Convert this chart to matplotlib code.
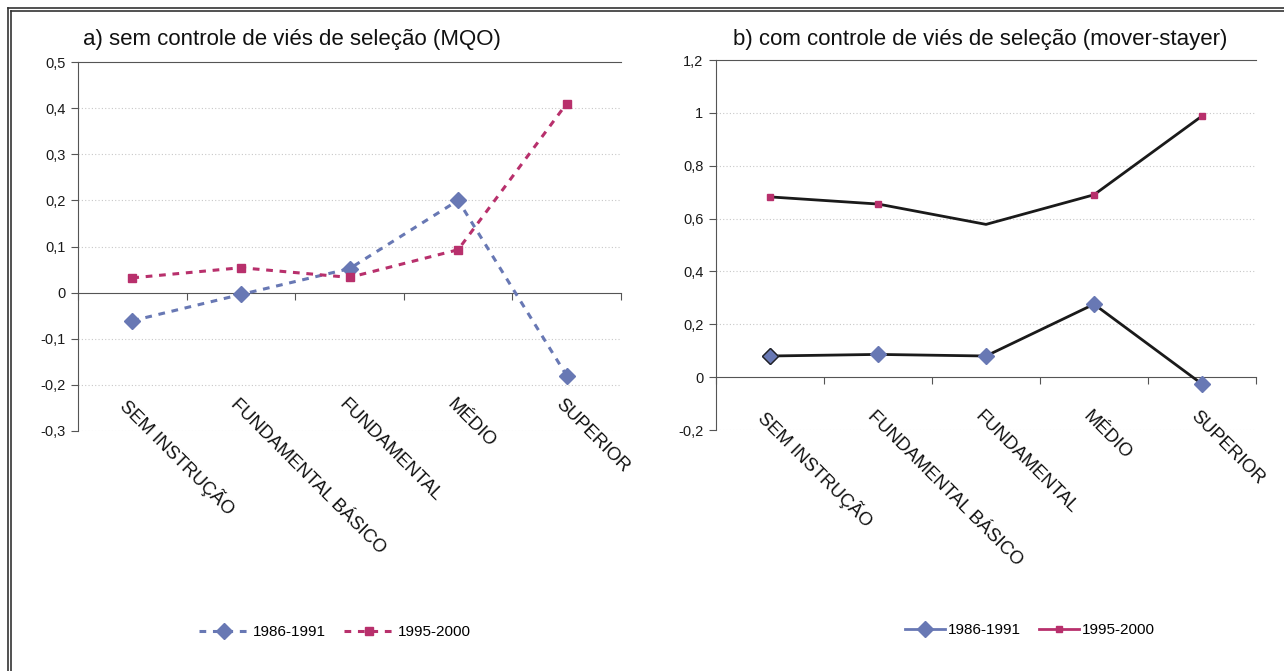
import matplotlib
matplotlib.use("Agg")
import matplotlib.pyplot as plt
from matplotlib.lines import Line2D
from matplotlib.ticker import FuncFormatter

plt.rcParams['font.family'] = ['Liberation Sans', 'DejaVu Sans']

CATEGORIES = ['SEM INSTRUÇÃO', 'FUNDAMENTAL BÁSICO', 'FUNDAMENTAL', 'MÉDIO', 'SUPERIOR']
SERIES = ['1986-1991', '1995-2000']

# a) sem controle de viés de seleção (MQO)
mqo_8691 = [-0.061, -0.004, 0.052, 0.200, -0.180]
mqo_9500 = [0.032, 0.054, 0.033, 0.093, 0.410]

# b) com controle de viés de seleção (mover-stayer)
ms_8691 = [0.080, 0.086, 0.080, 0.276, -0.026]
ms_9500 = [0.682, 0.655, 0.578, 0.690, 0.988]

BLUE = '#6878b4'
MAGENTA = '#b8306c'
GRID = '#c8c8c8'
AXIS = '#555555'

W, H = 1284, 671
fig = plt.figure(figsize=(W / 100, H / 100), dpi=100)


def comma(v, pos):
    s = f"{v:.1f}".replace('.', ',')
    if s == '1,0':
        return '1'
    if s in ('0,0', '-0,0'):
        return '0'
    return s


def style_axes(ax, ymin, ymax, step, label_y):
    x = list(range(len(CATEGORIES)))
    ax.set_xlim(-0.5, len(CATEGORIES) - 0.5)
    ax.set_ylim(ymin, ymax)
    n = int(round((ymax - ymin) / step))
    yt = [ymin + i * step for i in range(n + 1)]
    ax.set_yticks(yt)
    ax.yaxis.set_major_formatter(FuncFormatter(comma))
    for v in yt[:-1]:
        if abs(v) > 1e-9:
            ax.axhline(v, color=GRID, lw=0.8, ls=(0, (1, 2)), zorder=0)
    ax.spines['right'].set_visible(False)
    ax.spines['top'].set_color(AXIS)
    ax.spines['left'].set_color(AXIS)
    ax.spines['bottom'].set_position(('data', 0))
    ax.spines['bottom'].set_color(AXIS)
    ax.set_xticks([i - 0.5 for i in range(len(CATEGORIES) + 1)])
    ax.set_xticklabels([])
    ax.tick_params(axis='x', direction='out', length=5, color=AXIS)
    ax.tick_params(axis='y', direction='out', length=5, color=AXIS,
                   labelsize=10.5, labelcolor='#1a1a1a', pad=4)
    for i, lab in zip(x, CATEGORIES):
        ax.text(i - 0.02, label_y, lab, transform=ax.get_xaxis_transform(),
                rotation=-45, rotation_mode='anchor', ha='left', va='top',
                fontsize=13.3, color='#111111')


x = list(range(len(CATEGORIES)))

# panel a
ax1 = fig.add_axes([78 / W, 1 - 431 / H, 543 / W, 369 / H])
style_axes(ax1, -0.3, 0.5, 0.1, 0.095)
ax1.plot(x, mqo_8691, color=BLUE, lw=2.2, ls=(0, (2.2, 2.2)), marker='D',
         ms=8.5, mec=BLUE, label=SERIES[0], zorder=3)
ax1.plot(x, mqo_9500, color=MAGENTA, lw=2.2, ls=(0, (2.2, 2.2)), marker='s',
         ms=5.5, mec=MAGENTA, label=SERIES[1], zorder=3)
ax1.legend(loc='center', bbox_to_anchor=(335 / W, 1 - 632 / H),
           bbox_transform=fig.transFigure, ncol=2, frameon=False,
           fontsize=11, handlelength=3.2, columnspacing=1.2, handletextpad=0.3)

# panel b
ax2 = fig.add_axes([716 / W, 1 - 430 / H, 540 / W, 370 / H])
style_axes(ax2, -0.2, 1.2, 0.2, 0.06)
ax2.plot(x, ms_8691, color='#1a1a1a', lw=2, marker='D', ms=8.5,
         mfc=BLUE, mec=BLUE, zorder=3)
ax2.plot(x[:1], ms_8691[:1], ls='none', marker='D', ms=8.5, mfc=BLUE,
         mec='#222222', mew=1, zorder=4)
ax2.plot(x, ms_9500, color='#1a1a1a', lw=2, marker='s', ms=5, mfc=MAGENTA,
         mec=MAGENTA, markevery=[0, 1, 3, 4], zorder=3)
h_b = [Line2D([], [], color=BLUE, lw=2, marker='D', ms=8.5, mec=BLUE),
       Line2D([], [], color=MAGENTA, lw=2, marker='s', ms=5, mec=MAGENTA)]
ax2.legend(h_b, SERIES, loc='center', bbox_to_anchor=(1030 / W, 1 - 630 / H),
           bbox_transform=fig.transFigure, ncol=2, frameon=False,
           fontsize=11, handlelength=2.6, columnspacing=1.2, handletextpad=0.2)

# titles
fig.text(83 / W, 1 - 40 / H, 'a) sem controle de viés de seleção (MQO)',
         ha='left', va='center', fontsize=16, color='#111111')
fig.text(733 / W, 1 - 40 / H, 'b) com controle de viés de seleção (mover-stayer)',
         ha='left', va='center', fontsize=16, color='#111111')

# double frame on left and top
for off in (8, 11):
    fig.add_artist(Line2D([off / W, off / W], [0, 1 - off / H], color='#333333',
                          lw=1.2, transform=fig.transFigure))
    fig.add_artist(Line2D([off / W, 1], [1 - off / H, 1 - off / H], color='#333333',
                          lw=1.2, transform=fig.transFigure))

fig.savefig('out.png', dpi=100)
